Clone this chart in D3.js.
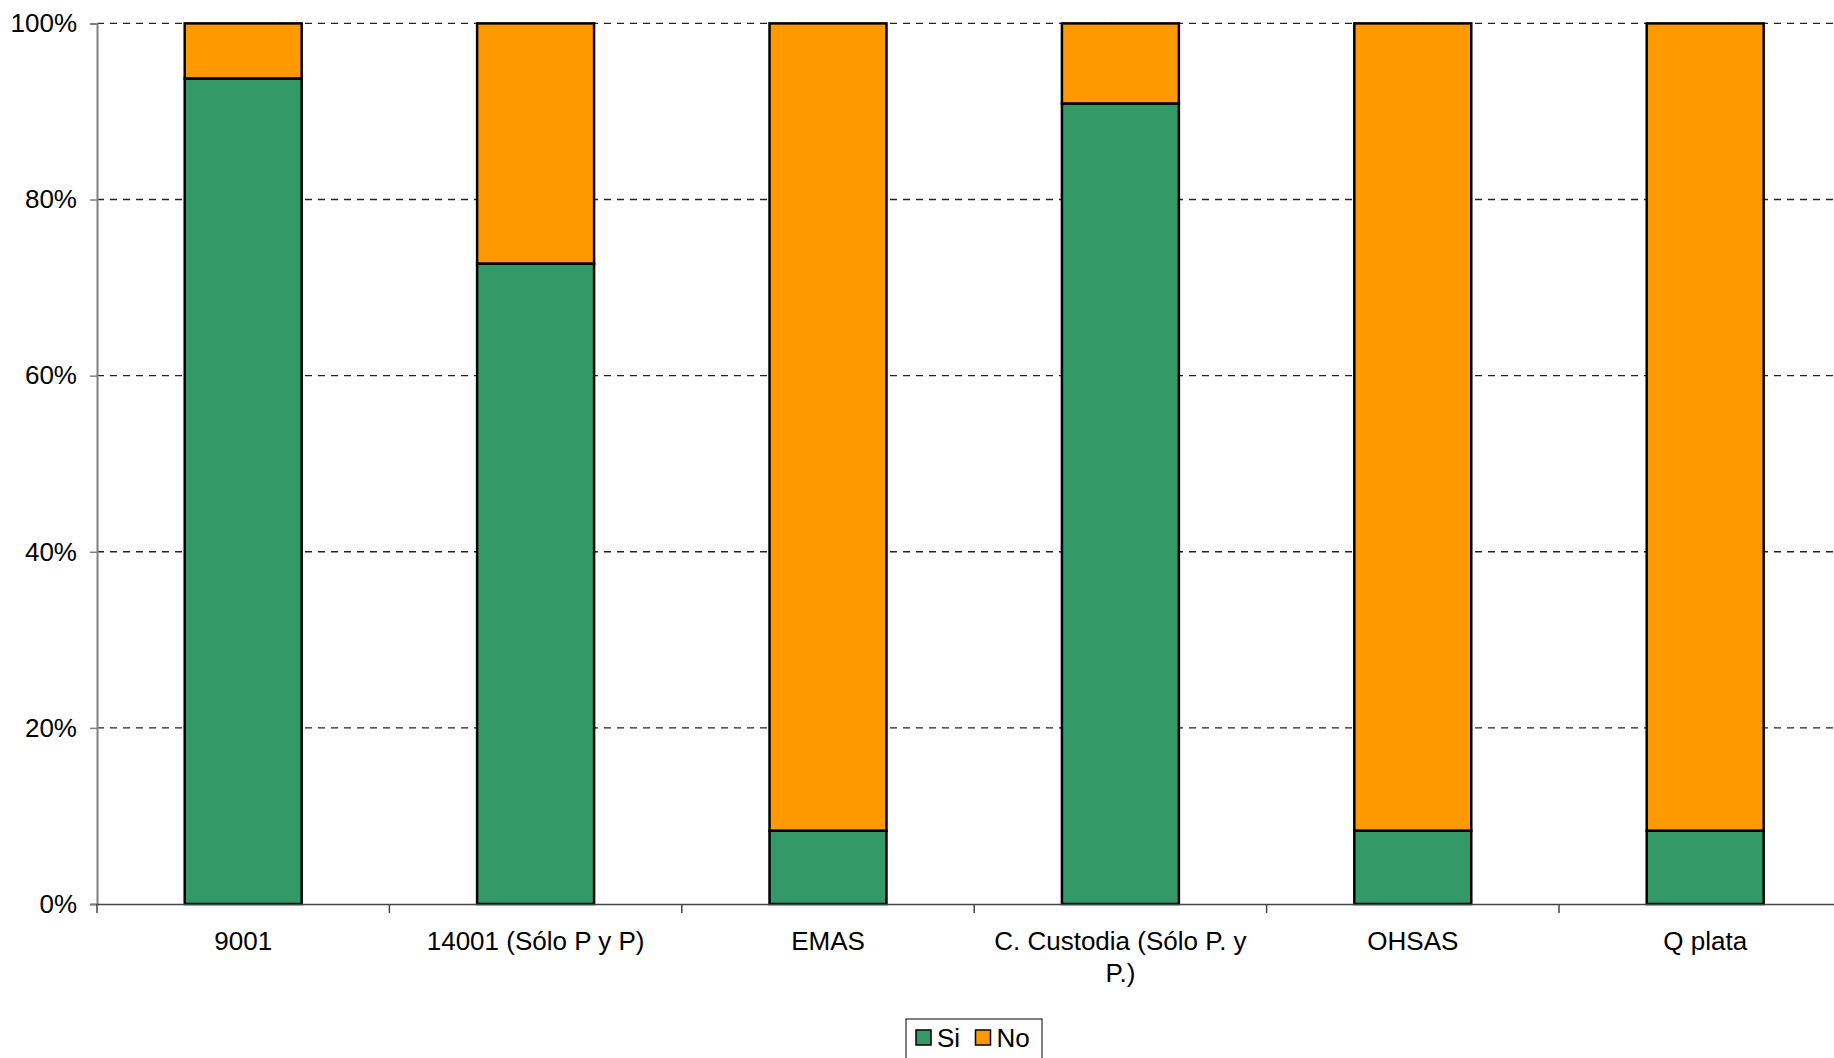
<!DOCTYPE html>
<html>
<head>
<meta charset="utf-8">
<script src="https://cdn.jsdelivr.net/npm/d3@7"></script>
<style>
  body { margin: 0; background: #fff; }
  svg { display: block; font-family: "Liberation Sans", Arial, sans-serif; }
</style>
</head>
<body>
<div id="chart"></div>
<script>
// data
var categories = ["9001", "14001 (Sólo P y P)", "EMAS", "C. Custodia (Sólo P. y P.)", "OHSAS", "Q plata"];
var si = [0.9375, 0.7273, 0.0833, 0.9091, 0.0833, 0.0833];
var no = [0.0625, 0.2727, 0.9167, 0.0909, 0.9167, 0.9167];
var seriesNames = ["Si", "No"];
var seriesColors = ["#339966", "#FF9900"];
var yTicks = [0, 0.2, 0.4, 0.6, 0.8, 1];

var W = 1834, H = 1058;
var margin = {top: 23.4, left: 97};
var step = 292.4;
var width = step * categories.length,   // runs past the right edge like the original
    height = 880.6;

var svg = d3.select("#chart")
  .append("svg")
    .attr("width", W)
    .attr("height", H);

var g = svg.append("g")
    .attr("transform", "translate(" + margin.left + "," + margin.top + ")");

var x = d3.scaleBand()
    .domain(categories)
    .range([0, width])
    .paddingInner(0.6)
    .paddingOuter(0.3);

var y = d3.scaleLinear()
    .domain([0, 1])
    .range([height, 0]);

// dashed gridlines
g.append("g")
  .selectAll("line")
  .data(yTicks.filter(function(d) { return d > 0; }))
  .enter()
  .append("line")
    .attr("x1", 0)
    .attr("x2", width)
    .attr("y1", function(d) { return y(d); })
    .attr("y2", function(d) { return y(d); })
    .attr("stroke", "#222")
    .attr("stroke-width", 1.4)
    .attr("stroke-dasharray", "7,6");

// stacked bars
var rows = categories.map(function(c, i) { return {cat: c, Si: si[i], No: no[i]}; });
var stacked = d3.stack().keys(seriesNames)(rows);

g.append("g")
  .selectAll("g")
  .data(stacked)
  .enter()
  .append("g")
    .attr("fill", function(d, i) { return seriesColors[i]; })
  .selectAll("rect")
  .data(function(d) { return d; })
  .enter()
  .append("rect")
    .attr("x", function(d) { return x(d.data.cat); })
    .attr("y", function(d) { return y(d[1]); })
    .attr("width", x.bandwidth())
    .attr("height", function(d) { return y(d[0]) - y(d[1]); })
    .attr("stroke", "#000")
    .attr("stroke-width", 2.5);

// y axis
var yAxis = g.append("g")
    .call(d3.axisLeft(y).tickValues(yTicks).tickFormat(d3.format(".0%")).tickSize(7).tickPadding(13));
yAxis.select(".domain").attr("stroke", "#808080").attr("stroke-width", 2);
yAxis.selectAll(".tick line").attr("stroke", "#808080").attr("stroke-width", 1.5);
yAxis.selectAll("text")
    .attr("font-size", 26)
    .attr("fill", "#000")
    .attr("font-family", "Liberation Sans, Arial, sans-serif");

// x axis
var xAxis = g.append("g")
    .attr("transform", "translate(0," + height + ")")
    .call(d3.axisBottom(x).tickSize(0).tickPadding(28));
xAxis.select(".domain").attr("stroke", "#444").attr("stroke-width", 1.5);
xAxis.selectAll("text")
    .attr("font-size", 26)
    .attr("fill", "#000")
    .attr("font-family", "Liberation Sans, Arial, sans-serif")
    .call(wrap, 268);

// category boundary ticks
g.append("g")
  .selectAll("line")
  .data(d3.range(categories.length + 1))
  .enter()
  .append("line")
    .attr("x1", function(i) { return i * step; })
    .attr("x2", function(i) { return i * step; })
    .attr("y1", height)
    .attr("y2", height + 9)
    .attr("stroke", "#444")
    .attr("stroke-width", 1.5);

function wrap(text, maxW) {
  text.each(function() {
    var t = d3.select(this),
        words = t.text().split(/\s+/),
        line = [],
        lineNo = 0,
        yy = t.attr("y"),
        dy = parseFloat(t.attr("dy")),
        tspan = t.text(null).append("tspan").attr("x", 0).attr("y", yy).attr("dy", dy + "em");
    words.forEach(function(w) {
      line.push(w);
      tspan.text(line.join(" "));
      if (tspan.node().getComputedTextLength() > maxW && line.length > 1) {
        line.pop();
        tspan.text(line.join(" "));
        line = [w];
        lineNo++;
        tspan = t.append("tspan").attr("x", 0).attr("y", yy)
            .attr("dy", (dy + lineNo * 1.23) + "em").text(w);
      }
    });
  });
}

// legend
var legend = svg.append("g").attr("transform", "translate(906,1019)");
legend.append("rect")
    .attr("width", 136)
    .attr("height", 50)
    .attr("fill", "#fff")
    .attr("stroke", "#000")
    .attr("stroke-width", 1);
var items = legend.selectAll(".item")
  .data(seriesNames)
  .enter()
  .append("g")
    .attr("transform", function(d, i) { return "translate(" + (10 + i * 59.5) + ",11)"; });
items.append("rect")
    .attr("width", 15)
    .attr("height", 15)
    .attr("fill", function(d, i) { return seriesColors[i]; })
    .attr("stroke", "#000")
    .attr("stroke-width", 1.5);
items.append("text")
    .attr("x", 21)
    .attr("y", 16.5)
    .attr("font-size", 26)
    .text(function(d) { return d; });
</script>
</body>
</html>
